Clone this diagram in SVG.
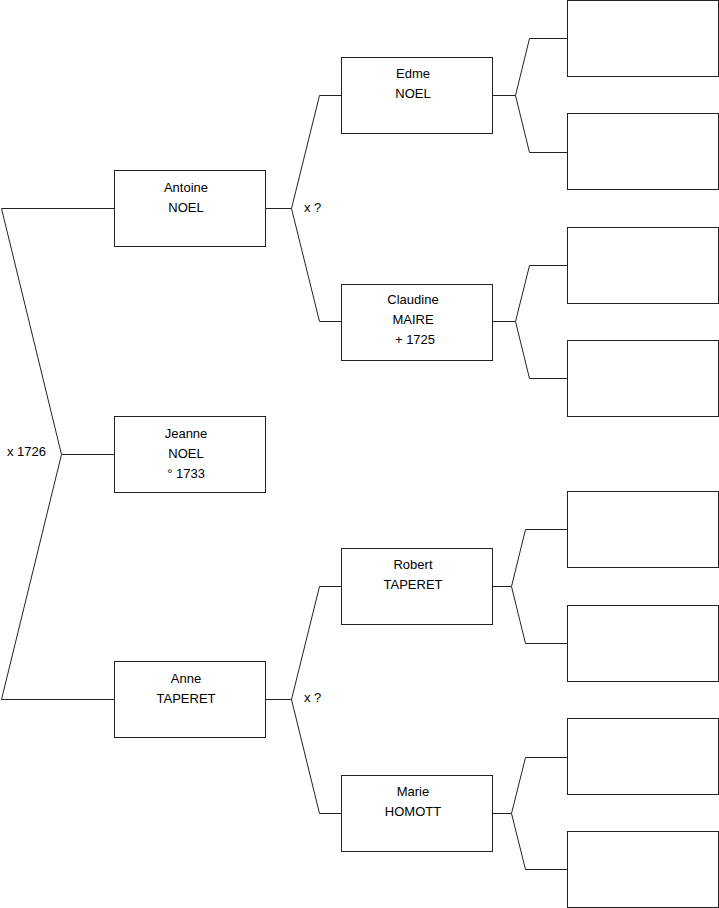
<svg xmlns="http://www.w3.org/2000/svg" width="719" height="908" viewBox="0 0 719 908">
<style>
.box{fill:#fff;stroke:#222;stroke-width:1}
.ln{fill:none;stroke:#222;stroke-width:1}
text{font-family:"Liberation Sans",Arial,sans-serif;font-size:13px;fill:#000}
.c{text-anchor:middle}
</style>
<rect width="719" height="908" fill="#fff"/>
<g id="connectors">
<path class="ln" d="M114.5,454.5H61.5M114.5,208.5H1.5L61.5,454.5L1.5,699.5H114.5"/>
<path class="ln" d="M265.5,208.5H291.5M341.5,95.5H319.5L291.5,208.5L319.5,321.5H341.5"/>
<path class="ln" d="M265.5,699.5H291.5M341.5,586.5H319.5L291.5,699.5L319.5,813.5H341.5"/>
<path class="ln" d="M492.5,95.5H515.5M567.5,38.5H529.5L515.5,95.5L529.5,152.5H567.5"/>
<path class="ln" d="M492.5,321.5H515.5M567.5,265.5H529.5L515.5,321.5L529.5,378.5H567.5"/>
<path class="ln" d="M492.5,586.5H511.5M567.5,529.5H525.5L511.5,586.5L525.5,643.5H567.5"/>
<path class="ln" d="M492.5,813.5H511.5M567.5,757.5H525.5L511.5,813.5L525.5,869.5H567.5"/>
<text x="7" y="456">x 1726</text>
<text x="304" y="212">x ?</text>
<text x="304" y="702">x ?</text>
</g>
<g id="antoine"><rect class="box" x="114.5" y="170.5" width="151" height="76"/><text class="c" x="186" y="192">Antoine</text><text class="c" x="186" y="212">NOEL</text></g>
<g id="jeanne"><rect class="box" x="114.5" y="416.5" width="151" height="76"/><text class="c" x="186" y="438">Jeanne</text><text class="c" x="186" y="458">NOEL</text><text class="c" x="186" y="478">° 1733</text></g>
<g id="anne"><rect class="box" x="114.5" y="661.5" width="151" height="76"/><text class="c" x="186" y="683">Anne</text><text class="c" x="186" y="703">TAPERET</text></g>
<g id="edme"><rect class="box" x="341.5" y="57.5" width="151" height="76"/><text class="c" x="413" y="78">Edme</text><text class="c" x="413" y="98">NOEL</text></g>
<g id="claudine"><rect class="box" x="341.5" y="284.5" width="151" height="76"/><text class="c" x="413" y="304">Claudine</text><text class="c" x="413" y="324">MAIRE</text><text class="c" x="415" y="344">+ 1725</text></g>
<g id="robert"><rect class="box" x="341.5" y="548.5" width="151" height="76"/><text class="c" x="413" y="569">Robert</text><text class="c" x="413" y="589">TAPERET</text></g>
<g id="marie"><rect class="box" x="341.5" y="775.5" width="151" height="76"/><text class="c" x="413" y="796">Marie</text><text class="c" x="413" y="816">HOMOTT</text></g>
<g id="g3a"><rect class="box" x="567.5" y="0.5" width="151" height="76"/></g>
<g id="g3b"><rect class="box" x="567.5" y="113.5" width="151" height="76"/></g>
<g id="g3c"><rect class="box" x="567.5" y="227.5" width="151" height="76"/></g>
<g id="g3d"><rect class="box" x="567.5" y="340.5" width="151" height="76"/></g>
<g id="g3e"><rect class="box" x="567.5" y="491.5" width="151" height="76"/></g>
<g id="g3f"><rect class="box" x="567.5" y="605.5" width="151" height="76"/></g>
<g id="g3g"><rect class="box" x="567.5" y="718.5" width="151" height="76"/></g>
<g id="g3h"><rect class="box" x="567.5" y="831.5" width="151" height="76"/></g>
</svg>
